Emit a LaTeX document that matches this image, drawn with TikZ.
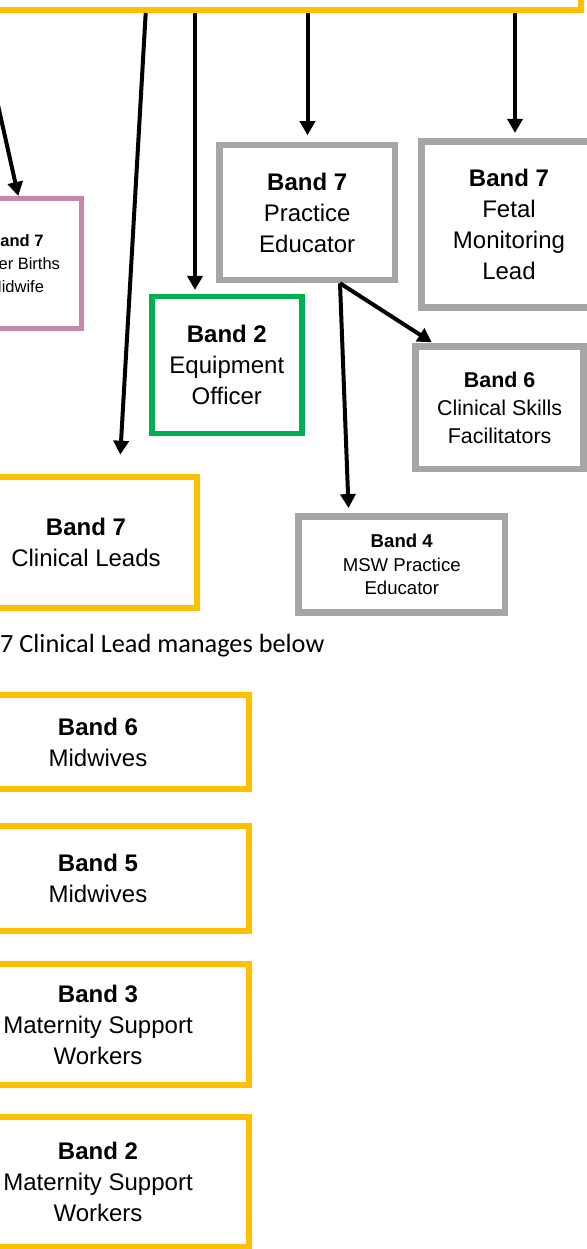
\documentclass[tikz,border=0pt]{standalone}
\usepackage{fontspec}
\setmainfont{Liberation Sans}
\newfontfamily\calfont{Carlito}
\usetikzlibrary{arrows.meta}
\definecolor{ylw}{RGB}{255,192,0}
\definecolor{gry}{RGB}{166,166,166}
\definecolor{grn}{RGB}{0,176,80}
\definecolor{pnk}{RGB}{198,136,168}
\tikzset{
  box/.style={rectangle, align=center, inner sep=0pt, text=black,
    font=\fontsize{24}{31}\selectfont},
  ybox/.style={box, draw=ylw, line width=6pt},
  gbox/.style={box, draw=gry, line width=6.5pt},
  grbox/.style={box, draw=grn, line width=5.5pt},
  pbox/.style={box, draw=pnk, line width=5pt, font=\fontsize{16.5}{23.3}\selectfont},
  arr/.style={draw=black, line width=4pt, -{Triangle[length=14pt,width=15pt]}},
}
\begin{document}
\begin{tikzpicture}[x=1pt,y=-1pt]
\useasboundingbox (0,0) rectangle (586,1249);
\fill[white] (0,0) rectangle (586,1249);

% top box (mostly off the page)
\node[ybox, minimum width=881pt, minimum height=110pt] (top) at (140.5,-45) {};

% second level
\node[pbox, minimum width=130pt, minimum height=130pt] (pink) at (16,263.5)
  {\textbf{Band 7}\\Other Births\\Midwife};
\node[gbox, minimum width=175.3pt, minimum height=135pt] (pe) at (307.2,212.5)
  {\textbf{Band 7}\\Practice\\Educator};
\node[gbox, minimum width=175pt, minimum height=165.8pt] (fetal) at (509,224.6)
  {\textbf{Band 7}\\Fetal\\Monitoring\\Lead};
\node[grbox, minimum width=149.9pt, minimum height=136.6pt] (eq) at (226.85,365)
  {\textbf{Band 2}\\Equipment\\Officer};
\node[gbox, minimum width=167.8pt, minimum height=122.1pt,
  font=\fontsize{21.4}{27.8}\selectfont] (skills) at (499.6,407.7)
  {\textbf{Band 6}\\Clinical Skills\\Facilitators};
\node[gbox, minimum width=206.3pt, minimum height=95.6pt,
  font=\fontsize{18.6}{23.8}\selectfont] (b4) at (401.75,564.5)
  {\textbf{Band 4}\\MSW Practice\\Educator};
\node[ybox, minimum width=222pt, minimum height=131.6pt] (cl) at (86,542.5)
  {\textbf{Band 7}\\Clinical Leads};

% caption
\node[anchor=base west, inner sep=0pt, font=\calfont\fontsize{26.3}{30}\selectfont]
  (cap) at (-60.5,652.5) {Band 7 Clinical Lead manages below};

% teams managed by clinical lead
\node[ybox, minimum width=301.4pt, minimum height=94.7pt] (m6) at (98,742)
  {\textbf{Band 6}\\Midwives};
\node[ybox, minimum width=301.4pt, minimum height=105.7pt] (m5) at (98,878.6)
  {\textbf{Band 5}\\Midwives};
\node[ybox, minimum width=301.4pt, minimum height=121pt] (s3) at (98,1024.7)
  {\textbf{Band 3}\\Maternity Support\\Workers};
\node[ybox, minimum width=301.4pt, minimum height=130pt] (s2) at (98,1182)
  {\textbf{Band 2}\\Maternity Support\\Workers};

% connectors
\draw[arr] ([xshift=-163.1pt]top.south) -- ([xshift=2.3pt]pink.north);
\draw[arr, shorten >=19pt] ([xshift=5.2pt]top.south) -- ([xshift=33.2pt]cl.north);
\draw[arr, shorten >=4pt] ([xshift=54.5pt]top.south) -- ([xshift=-31.85pt]eq.north);
\draw[arr, shorten >=6.5pt] ([xshift=167pt]top.south) -- ([xshift=0.3pt]pe.north);
\draw[arr, shorten >=5.5pt] ([xshift=374.5pt]top.south) -- ([xshift=6pt]fetal.north);
\draw[arr, shorten >=5.4pt] ([xshift=32.8pt]pe.south) -- ([xshift=-53pt]b4.north);
\draw[arr, shorten >=2pt] ([xshift=32.8pt]pe.south) -- ([xshift=-66.1pt]skills.north);
\end{tikzpicture}
\end{document}
